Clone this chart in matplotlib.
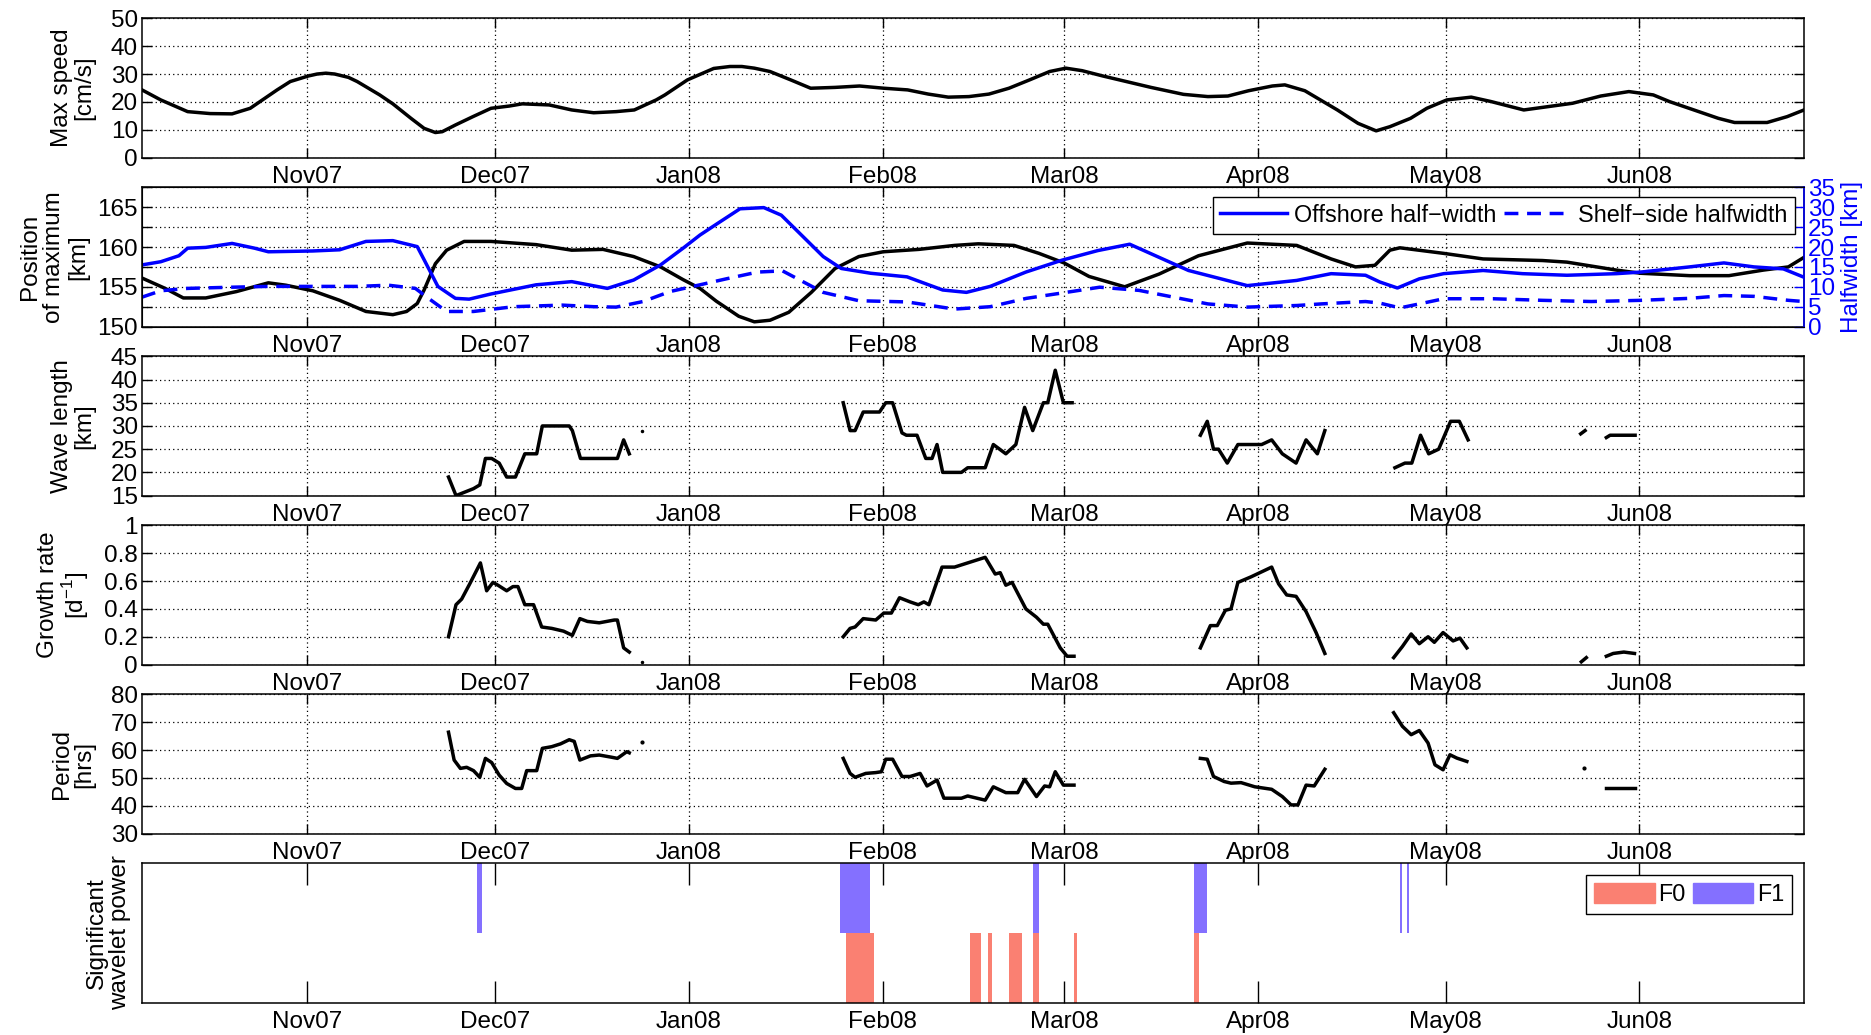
import numpy as np
import matplotlib
matplotlib.use('Agg')
import matplotlib.pyplot as plt
import matplotlib.dates as mdates
from matplotlib.ticker import MultipleLocator, FuncFormatter
from matplotlib.patches import Patch
from matplotlib.lines import Line2D

plt.rcParams['font.family'] = ['Liberation Sans', 'DejaVu Sans']
plt.rcParams['mathtext.fontset'] = 'custom'
plt.rcParams['mathtext.rm'] = 'Liberation Sans'
plt.rcParams['font.size'] = 17

# time axis: days since 1 Oct 2007
T0 = np.datetime64('2007-10-01T00:00')
day_range = [4.6, 270.3]

# max speed [cm/s]
speed_days = [4.6, 7.6, 11.9, 15.5, 19.0, 21.9, 26.2, 28.3, 31.2, 32.6, 34.0, 35.4, 37.6, 39.0,
              42.6, 44.7, 47.6, 49.7, 51.5, 52.6, 54.7, 57.5, 60.4, 63.3, 65.4, 69.7, 73.3,
              76.8, 80.4, 83.3, 86.8, 88.2, 91.8, 96.0, 98.6, 100.5, 102.5, 105.0, 108.3,
              111.5, 115.4, 119.3, 123.2, 127.0, 130.3, 133.5, 136.8, 140.0, 143.2, 146.5,
              149.7, 152.3, 154.9, 158.2, 165.9, 171.1, 175.0, 178.2, 181.5, 185.3, 187.3,
              190.5, 195.7, 199.0, 201.9, 204.1, 207.4, 210.0, 213.2, 217.1, 220.3, 225.5,
              229.4, 233.3, 237.8, 242.3, 246.2, 248.8, 252.7, 256.6, 259.2, 264.4, 267.6,
              270.3]
speed = [24.3, 20.7, 16.5, 15.8, 15.7, 17.7, 24.3, 27.3, 29.3, 30.0, 30.3, 30.0, 28.8, 27.3,
         22.5, 19.3, 14.1, 10.5, 9.0, 9.3, 11.7, 14.7, 17.7, 18.5, 19.3, 18.9, 17.1,
         16.1, 16.5, 17.1, 20.7, 22.5, 27.9, 32.0, 32.7, 32.7, 32.1, 30.9, 27.9,
         24.9, 25.2, 25.7, 24.9, 24.3, 22.8, 21.7, 21.9, 22.8, 24.9, 27.9,
         30.9, 32.1, 31.2, 29.3, 25.2, 22.7, 21.9, 22.1, 24.0, 25.7, 26.1,
         24.0, 17.1, 12.3, 9.6, 11.1, 14.1, 17.7, 20.7, 21.7, 20.1, 17.1,
         18.3, 19.5, 22.1, 23.7, 22.5, 20.1, 17.1, 14.1, 12.6, 12.6, 14.7,
         17.1]

# position of maximum [km]
pos_days = [4.6, 8.3, 11.2, 14.8, 19.7, 24.8, 27.6, 31.9, 36.2, 40.4, 44.7, 46.9, 48.6, 49.7,
            51.5, 53.3, 56.1, 60.4, 67.6, 73.3, 78.3, 83.2, 87.5, 91.1, 93.8, 96.4, 100.0,
            102.5, 105.0, 108.0, 111.6, 115.4, 119.2, 123.1, 128.8, 134.5, 138.3, 144.0,
            148.0, 152.0, 156.0, 161.7, 167.2, 173.5, 181.3, 189.2, 194.7, 198.6, 201.7,
            204.1, 205.7, 212.7, 219.0, 228.5, 232.4, 240.3, 244.2, 252.0, 258.3, 263.8,
            267.8, 270.3]
pos = [156.1, 154.8, 153.6, 153.6, 154.4, 155.5, 155.2, 154.5, 153.3, 151.9, 151.5, 151.9,
       152.9, 154.6, 157.9, 159.6, 160.7, 160.7, 160.3, 159.6, 159.7, 158.8, 157.5, 155.9,
       154.8, 153.2, 151.3, 150.6, 150.8, 151.8, 154.3, 157.3, 158.8, 159.4, 159.7, 160.2,
       160.4, 160.2, 159.2, 158.0, 156.3, 155.0, 156.6, 158.9, 160.5, 160.2, 158.5, 157.5,
       157.7, 159.6, 159.9, 159.2, 158.5, 158.3, 158.1, 157.1, 156.7, 156.4, 156.4, 157.1,
       157.5, 158.7]

# offshore half-width [km]
off_days = [4.6, 7.6, 10.5, 11.9, 14.8, 19.0, 22.6, 24.8, 31.9, 36.2, 40.4, 44.7, 48.6, 49.7,
            51.9, 54.7, 56.9, 60.4, 67.6, 73.3, 79.0, 83.2, 87.5, 91.1, 93.8, 96.4, 100.2,
            104.0, 106.8, 109.7, 113.5, 116.4, 121.1, 126.9, 132.6, 136.4, 140.2, 145.9,
            151.7, 157.4, 162.5, 171.9, 181.3, 189.2, 194.7, 200.2, 202.5, 205.3, 208.8,
            212.7, 219.0, 225.3, 232.4, 240.3, 244.2, 252.0, 257.5, 262.3, 267.0, 270.3]
off_hw = [15.5, 16.3, 17.8, 19.7, 19.9, 20.9, 19.7, 18.8, 19.0, 19.3, 21.4, 21.6, 20.1, 16.8,
          10.1, 7.1, 6.9, 8.2, 10.5, 11.3, 9.6, 11.7, 15.5, 19.7, 23.0, 25.7, 29.6,
          29.9, 28.0, 23.5, 17.6, 14.6, 13.4, 12.5, 9.2, 8.6, 10.1, 13.7,
          16.7, 19.1, 20.7, 14.1, 10.3, 11.6, 13.3, 12.9, 11.2, 9.7, 12.0,
          13.3, 14.1, 13.3, 12.9, 13.3, 13.7, 15.0, 16.0, 15.0, 14.5, 12.4]

# shelf-side half-width [km]
shelf_days = [4.6, 7.6, 11.9, 19.0, 24.8, 31.9, 39.0, 44.0, 48.3, 50.4, 53.3, 57.6, 64.0, 71.8,
              76.8, 80.4, 84.7, 89.0, 93.8, 98.0, 103.0, 107.0, 113.5, 119.2, 126.9, 134.5,
              140.2, 146.0, 153.6, 157.7, 164.0, 169.5, 175.0, 181.3, 189.2, 193.1, 200.2,
              202.5, 205.7, 208.8, 212.7, 220.6, 228.5, 236.3, 244.2, 252.0, 257.5, 262.3,
              267.8, 270.3]
shelf_hw = [7.4, 9.0, 9.6, 9.9, 10.1, 10.1, 10.1, 10.4, 9.6, 7.1, 3.8, 3.8, 5.0, 5.4,
            5.0, 4.9, 6.3, 8.8, 10.5, 12.0, 13.7, 14.0, 8.6, 6.5, 6.2, 4.4,
            5.0, 7.1, 8.9, 9.9, 9.1, 7.4, 5.7, 4.9, 5.3, 5.7, 6.3,
            5.9, 4.7, 5.7, 7.0, 7.0, 6.6, 6.3, 6.6, 7.1, 7.8, 7.6,
            6.6, 6.3]

# wave length [km], one list per continuous piece
wl_days = [[53.6, 54.8, 57.6, 58.6, 59.5, 60.5, 61.7, 62.9, 64.3, 65.8, 67.7, 68.6, 72.9, 73.4,
            74.7, 80.6, 81.6, 82.5],
           [116.7, 117.8, 118.6, 119.9, 122.5, 123.5, 124.6, 126.1, 126.8, 128.5, 129.9, 130.9,
            131.7, 132.6, 135.6, 136.6, 139.4, 140.7, 142.7, 144.3, 145.7, 147.0, 148.7, 149.4,
            150.6, 151.9, 153.3],
           [173.8, 174.9, 175.9, 176.7, 178.1, 179.8, 183.6, 185.2, 186.9, 189.1, 190.7, 192.5,
            193.7],
           [204.9, 206.5, 207.6, 209.0, 210.3, 211.9, 213.8, 215.2, 216.6],
           [234.6, 235.3],
           [238.7, 239.3, 243.3]]
wl_vals = [[19, 15, 16.5, 17.3, 23, 23, 22, 19, 19, 24, 24, 30, 30, 29, 23, 23, 27, 24],
           [35, 29, 29, 33, 33, 35, 35, 28.5, 28, 28, 23, 23, 26, 20, 20, 21, 21, 26, 24, 26,
            34, 29, 35, 35, 42, 35, 35],
           [28, 31, 25, 25, 22, 26, 26, 27, 24, 22, 27, 24, 29],
           [21, 22, 22, 28, 24, 25, 31, 31, 27],
           [28.3, 29],
           [27.5, 28, 28]]
wl_dot = ([84.6], [29])

# growth rate [1/d]
gr_days = [[53.6, 54.8, 55.7, 57.0, 58.7, 59.7, 60.7, 61.5, 62.9, 63.9, 64.7, 65.8, 67.2, 68.5,
            70.1, 72.0, 73.4, 74.6, 75.8, 77.7, 80.1, 80.6, 81.6, 82.5],
           [116.7, 117.8, 118.6, 119.9, 121.9, 123.2, 124.4, 125.7, 127.4, 128.7, 129.6, 130.4,
            132.5, 134.5, 136.6, 139.4, 141.0, 141.8, 142.7, 143.7, 145.9, 147.6, 148.7, 149.4,
            151.4, 152.5, 153.6],
           [173.8, 175.4, 176.5, 177.8, 178.7, 179.8, 181.9, 185.2, 186.3, 187.6, 189.1, 190.7,
            192.3, 193.7],
           [204.7, 206.1, 207.5, 208.8, 210.2, 211.2, 212.6, 214.2, 215.3, 216.4],
           [234.7, 235.5],
           [238.7, 239.8, 241.5, 243.2]]
gr_vals = [[0.2, 0.43, 0.47, 0.58, 0.73, 0.53, 0.59, 0.57, 0.53, 0.56, 0.56, 0.43, 0.43, 0.27,
            0.26, 0.24, 0.21, 0.33, 0.31, 0.30, 0.32, 0.32, 0.12, 0.09],
           [0.2, 0.26, 0.27, 0.33, 0.32, 0.37, 0.37, 0.48, 0.45, 0.43, 0.45, 0.43, 0.70, 0.70,
            0.73, 0.77, 0.65, 0.66, 0.57, 0.59, 0.40, 0.34, 0.29, 0.29, 0.12, 0.06, 0.06],
           [0.12, 0.28, 0.28, 0.39, 0.40, 0.59, 0.63, 0.70, 0.58, 0.50, 0.49, 0.38, 0.23, 0.08],
           [0.05, 0.13, 0.22, 0.15, 0.20, 0.16, 0.23, 0.17, 0.19, 0.12],
           [0.02, 0.05],
           [0.06, 0.08, 0.09, 0.08]]
gr_dot = ([84.6], [0.02])

# period [hrs]
per_days = [[53.6, 54.5, 55.5, 56.5, 57.6, 58.6, 59.5, 60.5, 61.7, 62.9, 64.3, 65.3, 66.1, 67.7,
             68.6, 70.1, 71.5, 72.9, 73.7, 74.6, 76.3, 77.7, 79.7, 80.6, 82.1, 82.5],
            [116.7, 117.8, 118.6, 120.3, 121.9, 122.8, 123.5, 124.6, 126.1, 127.4, 129.0, 130.1,
             131.7, 132.8, 135.6, 136.6, 139.4, 140.7, 142.7, 144.6, 145.7, 147.6, 148.9, 149.7,
             150.6, 151.9, 153.6],
            [173.8, 174.9, 175.9, 177.6, 178.7, 180.3, 182.5, 185.2, 186.9, 188.3, 189.4, 190.7,
             192.0, 193.7],
            [204.7, 206.1, 207.5, 208.8, 210.2, 211.3, 212.6, 213.7, 214.8, 216.4],
            [238.7, 243.3]]
per_vals = [[66.4, 56.4, 53.4, 53.8, 52.6, 50.2, 57.0, 55.5, 51.0, 48.0, 46.2, 46.2, 52.6, 52.6,
             60.6, 61.2, 62.2, 63.7, 63.1, 56.4, 57.9, 58.2, 57.4, 57.0, 59.4, 59.0],
            [57.0, 51.6, 50.2, 51.6, 51.9, 52.2, 56.7, 56.7, 50.5, 50.5, 51.6, 47.1, 49.2, 42.7,
             42.7, 43.5, 42.0, 46.8, 44.7, 44.7, 49.5, 43.3, 47.1, 46.8, 52.2, 47.4, 47.4],
            [57.0, 56.7, 50.5, 48.7, 48.1, 48.3, 46.8, 45.9, 43.3, 40.3, 40.3, 47.4, 47.1, 53.1],
            [73.4, 68.5, 65.5, 67.0, 62.5, 54.7, 52.9, 58.3, 57.1, 55.9],
            [46.5, 46.5]]
per_dot = ([84.6, 235.1], [63.0, 53.7])

# significant wavelet power periods (start, end day)
f0_start = [117.2, 136.9, 139.8, 143.2, 147.0, 153.6, 172.8]
f0_end = [121.6, 138.7, 140.5, 145.3, 148.0, 154.1, 173.6]
f1_start = [58.1, 116.2, 147.0, 172.8, 205.7, 206.8]
f1_end = [59.0, 121.0, 148.0, 174.8, 206.0, 207.1]

F0_COLOR = '#fa8072'
F1_COLOR = '#8470ff'
TICK_FS = 17.5
LABEL_FS = 17.5
LEGEND_FS = 16.8


def to_time(days):
    mins = np.round(np.asarray(days, dtype=float) * 1440).astype(np.int64)
    return T0 + mins.astype('timedelta64[m]')


def style(ax, ylim, ystep, grid=True):
    ax.set_xlim(to_time(day_range))
    ax.set_ylim(ylim)
    ax.xaxis.set_major_locator(mdates.MonthLocator())
    ax.xaxis.set_major_formatter(mdates.DateFormatter('%b%y'))
    if ystep:
        ax.yaxis.set_major_locator(MultipleLocator(ystep))
        ax.yaxis.set_major_formatter(FuncFormatter(lambda v, p: '%g' % round(v, 6)))
    ax.tick_params(direction='in', top=True, right=True, length=7, width=1.0,
                   labelsize=TICK_FS, pad=3)
    ax.tick_params(axis='x', pad=6)
    for s in ax.spines.values():
        s.set_linewidth(1.1)
    if grid:
        ax.grid(True, linestyle=(0, (1, 2.5)), color='k', linewidth=0.9)


fig = plt.figure(figsize=(18.71, 10.35), dpi=100)
W, H = 1871.0, 1035.0
left, right = 142 / W, 1804 / W
axes = []
for i in range(6):
    top = 18.3 + 169.0 * i
    axes.append(fig.add_axes([left, 1 - (top + 139.3) / H, right - left, 139.3 / H]))
ax1, ax2, ax3, ax4, ax5, ax6 = axes
lw = 2.5

# max speed
ax1.plot(to_time(speed_days), speed, color='k', lw=lw)
style(ax1, (0, 50), 10)
ax1.set_ylabel('Max speed\n[cm/s]', fontsize=LABEL_FS, linespacing=1.05, labelpad=11)

# position of maximum and half-widths
ax2.plot(to_time(pos_days), pos, color='k', lw=lw)
style(ax2, (150, 167.5), 5)
ax2.yaxis.set_minor_locator(MultipleLocator(2.5))
ax2.tick_params(which='minor', direction='in', length=7, width=1.0, right=False)
ax2.tick_params(right=False)
ax2.grid(True, which='minor', axis='y', linestyle=(0, (1, 2.5)), color='k', linewidth=0.9)
ax2.set_ylabel('Position\nof maximum\n[km]', fontsize=LABEL_FS, linespacing=1.1, labelpad=6)
ax2r = ax2.twinx()
ax2r.plot(to_time(off_days), off_hw, color='b', lw=lw)
ax2r.plot(to_time(shelf_days), shelf_hw, color='b', lw=lw, linestyle=(0, (4, 2.5)))
ax2r.set_xlim(to_time(day_range))
ax2r.set_ylim(0, 35)
ax2r.yaxis.set_major_locator(MultipleLocator(5))
ax2r.tick_params(axis='y', direction='in', colors='b', length=7, width=1.0,
                 labelsize=TICK_FS, pad=3)
ax2r.spines['right'].set_color('b')
ax2r.spines['right'].set_linewidth(1.1)
ax2r.set_ylabel('Halfwidth [km]', color='b', fontsize=LABEL_FS, labelpad=4)
handles = [Line2D([], [], color='b', lw=lw),
           Line2D([], [], color='b', lw=lw, linestyle=(0, (4, 2.5)))]
leg = ax2r.legend(handles, ['Offshore half\u2212width', 'Shelf\u2212side halfwidth'],
                  loc='upper right', ncol=2, fontsize=LEGEND_FS, handlelength=2.9,
                  columnspacing=0.3, handletextpad=0.3, borderpad=0.3,
                  borderaxespad=0.4, fancybox=False, framealpha=1, edgecolor='k')
leg.get_frame().set_linewidth(1.0)

# wave length
for d, v in zip(wl_days, wl_vals):
    ax3.plot(to_time(d), v, color='k', lw=lw)
ax3.plot(to_time(wl_dot[0]), wl_dot[1], 'k.', ms=3)
style(ax3, (15, 45), 5)
ax3.set_ylabel('Wave length\n[km]', fontsize=LABEL_FS, linespacing=1.05, labelpad=11)

# growth rate
for d, v in zip(gr_days, gr_vals):
    ax4.plot(to_time(d), v, color='k', lw=lw)
ax4.plot(to_time(gr_dot[0]), gr_dot[1], 'k.', ms=3)
style(ax4, (0, 1), 0.2)
ax4.set_ylabel('Growth rate\n[d$^{-1}$]', fontsize=LABEL_FS, linespacing=1.05, labelpad=9)

# period
for d, v in zip(per_days, per_vals):
    ax5.plot(to_time(d), v, color='k', lw=lw)
ax5.plot(to_time(per_dot[0]), per_dot[1], 'k.', ms=4)
style(ax5, (30, 80), 10)
ax5.set_ylabel('Period\n[hrs]', fontsize=LABEL_FS, linespacing=1.05, labelpad=11)

# significant wavelet power
f0_x = mdates.date2num(to_time(f0_start))
f0_w = mdates.date2num(to_time(f0_end)) - f0_x
f1_x = mdates.date2num(to_time(f1_start))
f1_w = mdates.date2num(to_time(f1_end)) - f1_x
ax6.bar(f0_x, 0.5, width=f0_w, bottom=0.0, align='edge', color=F0_COLOR, linewidth=0)
ax6.bar(f1_x, 0.5, width=f1_w, bottom=0.5, align='edge', color=F1_COLOR, linewidth=0)
style(ax6, (0, 1), None, grid=False)
ax6.set_yticks([])
ax6.tick_params(axis='x', length=16)
ax6.set_ylabel('Significant\nwavelet power', fontsize=LABEL_FS, labelpad=8, linespacing=1.05)
leg6 = ax6.legend([Patch(color=F0_COLOR), Patch(color=F1_COLOR)], ['F0', 'F1'],
                  loc='upper right', ncol=2, fontsize=LEGEND_FS, handlelength=2.6,
                  handleheight=0.9, columnspacing=0.3, handletextpad=0.15, borderpad=0.35,
                  borderaxespad=0.5, fancybox=False, framealpha=1, edgecolor='k')
leg6.get_frame().set_linewidth(1.0)

fig.savefig('out.png', dpi=100)
